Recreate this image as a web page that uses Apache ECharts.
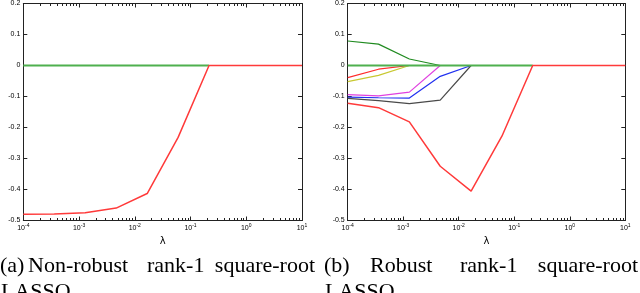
<!DOCTYPE html>
<html>
<head>
<meta charset="utf-8">
<script src="https://cdn.jsdelivr.net/npm/echarts@6/dist/echarts.min.js"></script>
<style>
html,body{margin:0;padding:0;background:#fff;}
#c{width:640px;height:293px;}
</style>
</head>
<body>
<div id="c"></div>
<script>
// lambda grid (x values)
const lambdas = [1e-4, 3.59e-4, 1.29e-3, 4.64e-3, 1.67e-2, 5.99e-2, 0.215, 0.774, 2.78, 10];
const xMajorTicks = [1e-4, 1e-3, 1e-2, 1e-1, 1, 10];
const yTicks = [-0.5, -0.4, -0.3, -0.2, -0.1, 0, 0.1, 0.2];

// (a) non-robust
const aGreen = [0, 0, 0, 0, 0, 0, 0];
const aRed = [-0.48, -0.479, -0.475, -0.46, -0.413, -0.232, 0, 0, 0, 0];

// (b) robust
const bDarkGreen = [0.079, 0.069, 0.021, 0];
const bRedSmall = [-0.039, -0.012, 0];
const bYellow = [-0.052, -0.032, 0];
const bMagenta = [-0.094, -0.098, -0.086, 0];
const bBlue = [-0.102, -0.104, -0.105, -0.035, 0];
const bGray = [-0.106, -0.113, -0.123, -0.112, 0];
const bGreen = [0, 0, 0, 0, 0, 0, 0];
const bRed = [-0.122, -0.136, -0.182, -0.325, -0.405, -0.228, 0, 0, 0, 0];

const minorTicks = [];
for (let d = -4; d <= 0; d++) for (let m = 2; m <= 9; m++) minorTicks.push(m * Math.pow(10, d));

const pairs = arr => arr.map((v, i) => [lambdas[i], v]);
const AX = '#222';
const grids = [
  {left: 23.3, top: 1.4, width: 278.7, height: 219.1},
  {left: 347.7, top: 1.4, width: 277.6, height: 219.1}
];

const xAxis = [], yAxis = [];
grids.forEach((g, gi) => {
  xAxis.push({
    gridIndex: gi, type: 'log', logBase: 10, min: 1e-4, max: 10, position: 'bottom',
    axisLine: {show: true, onZero: false, lineStyle: {color: AX, width: 1}},
    axisTick: {show: true, inside: true, length: 4, customValues: xMajorTicks, lineStyle: {color: AX}},
    axisLabel: {
      show: true, customValues: xMajorTicks, margin: 3,
      formatter: v => '{b|10}{s|' + Math.round(Math.log10(v)) + '}',
      rich: {
        b: {fontSize: 7, fontFamily: 'Liberation Sans', color: '#000'},
        s: {fontSize: 5, fontFamily: 'Liberation Sans', color: '#000', padding: [0, 0, 5, 0]}
      }
    },
    splitLine: {show: false},
    name: 'λ', nameLocation: 'middle', nameGap: 13,
    nameTextStyle: {fontSize: 10, fontFamily: 'DejaVu Sans', color: '#000'}
  });
  xAxis.push({
    gridIndex: gi, type: 'log', logBase: 10, min: 1e-4, max: 10, position: 'bottom',
    axisLine: {show: false, onZero: false},
    axisTick: {show: true, inside: true, length: 2.5, customValues: minorTicks, lineStyle: {color: AX}},
    axisLabel: {show: false}, splitLine: {show: false}
  });
  xAxis.push({
    gridIndex: gi, type: 'log', logBase: 10, min: 1e-4, max: 10, position: 'top',
    axisLine: {show: true, onZero: false, lineStyle: {color: AX, width: 1}},
    axisTick: {show: true, inside: true, length: 4, customValues: xMajorTicks, lineStyle: {color: AX}},
    axisLabel: {show: false}, splitLine: {show: false}
  });
  xAxis.push({
    gridIndex: gi, type: 'log', logBase: 10, min: 1e-4, max: 10, position: 'top',
    axisLine: {show: false, onZero: false},
    axisTick: {show: true, inside: true, length: 2.5, customValues: minorTicks, lineStyle: {color: AX}},
    axisLabel: {show: false}, splitLine: {show: false}
  });
  yAxis.push({
    gridIndex: gi, type: 'value', min: -0.5, max: 0.2, interval: 0.1, position: 'left',
    axisLine: {show: true, onZero: false, lineStyle: {color: AX, width: 1}},
    axisTick: {show: true, inside: true, length: 4, lineStyle: {color: AX}},
    axisLabel: {
      show: true, margin: 3, fontSize: 7, fontFamily: 'Liberation Sans', color: '#000',
      formatter: v => String(+v.toFixed(1))
    },
    splitLine: {show: false}
  });
  yAxis.push({
    gridIndex: gi, type: 'value', min: -0.5, max: 0.2, interval: 0.1, position: 'right',
    axisLine: {show: true, onZero: false, lineStyle: {color: AX, width: 1}},
    axisTick: {show: true, inside: true, length: 4, lineStyle: {color: AX}},
    axisLabel: {show: false}, splitLine: {show: false}
  });
});

function line(gi, data, color, width) {
  return {
    type: 'line', xAxisIndex: gi * 4, yAxisIndex: gi * 2, data: pairs(data),
    symbol: 'none', animation: false, silent: true,
    lineStyle: {color: color, width: width}
  };
}

const series = [
  line(0, aGreen, '#4fb04f', 2),
  line(0, aRed, '#ff3a3a', 1.5),
  line(1, bDarkGreen, '#1f8a1f', 1.2),
  line(1, bRedSmall, '#ff2a2a', 1.2),
  line(1, bYellow, '#c8c830', 1.2),
  line(1, bMagenta, '#e040e0', 1.2),
  line(1, bBlue, '#2030f0', 1.2),
  line(1, bGray, '#4a4a4a', 1.2),
  line(1, bGreen, '#4fb04f', 2),
  line(1, bRed, '#ff3a3a', 1.5)
];

const CF = '22px "Liberation Serif"';
function word(x, y, t, align) {
  return {type: 'text', style: {x: x, y: y, text: t, font: CF, fill: '#000', textAlign: align || 'left', textVerticalAlign: 'top'}};
}
const capY1 = 255, capY2 = 281;
const graphic = [
  word(0, capY1, '(a)'), word(28, capY1, 'Non-robust'), word(147, capY1, 'rank-1'), word(315, capY1, 'square-root', 'right'),
  word(1, capY2, 'LASSO.'),
  word(324, capY1, '(b)'), word(370, capY1, 'Robust'), word(460, capY1, 'rank-1'), word(638, capY1, 'square-root', 'right'),
  word(325, capY2, 'LASSO.')
];

const chart = echarts.init(document.getElementById('c'), null, {renderer: 'canvas'});
chart.setOption({
  animation: false,
  backgroundColor: '#fff',
  grid: grids,
  xAxis: xAxis,
  yAxis: yAxis,
  series: series,
  graphic: graphic
});
</script>
</body>
</html>
